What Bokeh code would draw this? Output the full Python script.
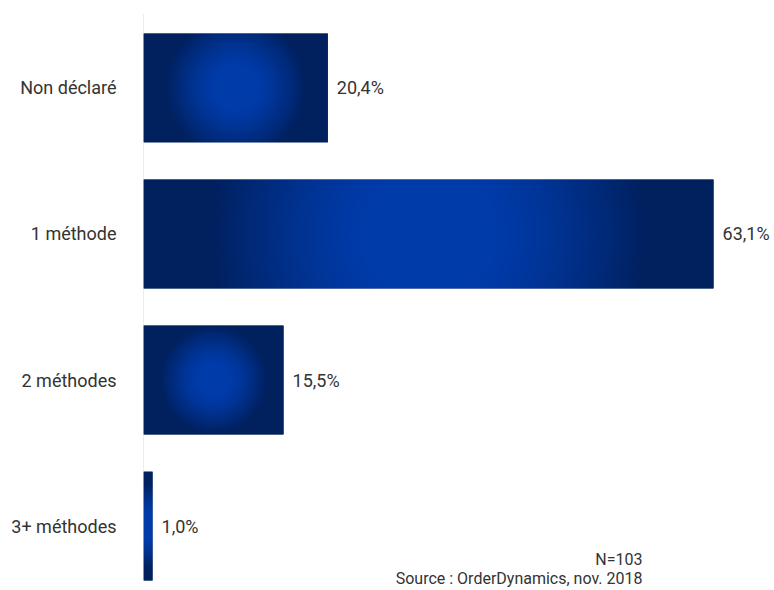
import numpy as np
from bokeh.plotting import figure
from bokeh.models import Range1d, FixedTicker, Label, ColumnDataSource
from bokeh.core.properties import value
from bokeh.embed import file_html
from bokeh.resources import INLINE

# ---------------- data ----------------
categories = ["Non déclaré", "1 méthode", "2 méthodes", "3+ méthodes"]
shares = [20.4, 63.1, 15.5, 1.0]
share_labels = ["20,4%", "63,1%", "15,5%", "1,0%"]
note_n = "N=103"
note_source = "Source : OrderDynamics, nov. 2018"

# ---------------- layout / style ----------------
W, H = 774, 590
BORDER_L, BORDER_R, BORDER_T, BORDER_B = 143, 0, 13, 0
X_MAX = 69.85
Y_LO, Y_HI = -0.4415, 3.51
BAR_H = 0.745
DARK = (0, 32, 94)
BRIGHT = (0, 59, 170)
TEXT = "#333333"
FONT = "Roboto"

frame_w = W - BORDER_L - BORDER_R
frame_h = H - BORDER_T - BORDER_B
px_x = frame_w / X_MAX
px_y = frame_h / (Y_HI - Y_LO)

n = len(categories)
pos = [n - 1 - i for i in range(n)]


def gradient(wpx, hpx):
    nx = max(int(round(wpx)), 1)
    ny = max(int(round(hpx)), 1)
    xs = (np.arange(nx) + 0.5) / nx * wpx - wpx / 2
    ys = (np.arange(ny) + 0.5) / ny * hpx - hpx / 2
    d = np.hypot(xs[None, :], ys[:, None])
    R = 0.5 * max(wpx, hpx)
    t = np.clip((d / R - 0.22) / 0.55, 0, 1) ** 1.3
    img = np.empty((ny, nx), dtype=np.uint32)
    view = img.view(dtype=np.uint8).reshape((ny, nx, 4))
    for c in range(3):
        view[..., c] = np.round(BRIGHT[c] * (1 - t) + DARK[c] * t).astype(np.uint8)
    view[..., 3] = 255
    return img


p = figure(
    width=W, height=H,
    x_range=Range1d(0, X_MAX), y_range=Range1d(Y_LO, Y_HI),
    output_backend="svg", toolbar_location=None,
    min_border_left=BORDER_L, min_border_right=BORDER_R,
    min_border_top=BORDER_T, min_border_bottom=BORDER_B,
)
p.outline_line_color = None
p.xgrid.grid_line_color = None
p.ygrid.grid_line_color = None
p.xaxis.visible = False
p.background_fill_color = "white"
p.border_fill_color = "white"

src = ColumnDataSource(dict(
    y=pos, right=shares, label=share_labels,
    bottom=[q - BAR_H / 2 for q in pos],
    h=[BAR_H] * n,
    left=[0.0] * n,
    img=[gradient(v * px_x, BAR_H * px_y) for v in shares],
))

# vertical baseline (axis line) from top of the plot to the bottom of the last bar
p.segment(x0=[0], y0=[Y_HI], x1=[0], y1=[min(pos) - BAR_H / 2],
          line_color="#d9d9d9", line_width=1)

p.hbar(y="y", right="right", left="left", height="h", source=src,
       fill_color="#%02x%02x%02x" % DARK, line_color=None)
p.image_rgba(image="img", x="left", y="bottom", dw="right", dh="h", source=src)

p.text(x="right", y="y", text="label", source=src, x_offset=9,
       text_baseline="middle", text_align="left",
       text_font=value(FONT), text_font_size="18px", text_color=TEXT)

yax = p.yaxis[0]
yax.ticker = FixedTicker(ticks=pos)
yax.major_label_overrides = {q: c for q, c in zip(pos, categories)}
yax.axis_line_color = None
yax.major_tick_line_color = None
yax.minor_tick_line_color = None
yax.major_label_standoff = 21
yax.major_label_text_font = FONT
yax.major_label_text_font_size = "18px"
yax.major_label_text_color = TEXT

note_x = (642 - BORDER_L) / px_x
p.add_layout(Label(x=note_x, y=Y_HI - (559 - BORDER_T) / px_y, text=note_n,
                   text_align="right", text_baseline="alphabetic",
                   text_font=FONT, text_font_size="16px", text_color=TEXT))
p.add_layout(Label(x=note_x, y=Y_HI - (578 - BORDER_T) / px_y, text=note_source,
                   text_align="right", text_baseline="alphabetic",
                   text_font=FONT, text_font_size="16px", text_color=TEXT))

open("out.html", "w").write(file_html(p, INLINE))
